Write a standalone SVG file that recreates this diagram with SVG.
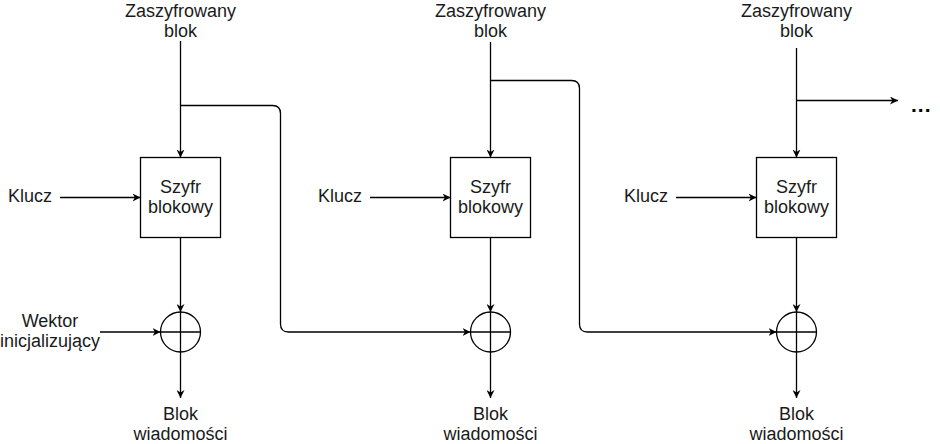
<svg xmlns="http://www.w3.org/2000/svg" width="940" height="444" viewBox="0 0 940 444">
<style>
text{font-family:"Liberation Sans",Arial,sans-serif;font-size:18px;fill:#1a1a1a;text-anchor:middle}
.ln{fill:none;stroke:#000;stroke-width:1.3}
.arr{marker-end:url(#ah)}
.box{fill:#fff;stroke:#000;stroke-width:1.3}
.dots{font-weight:bold;font-size:21px;text-anchor:start;letter-spacing:1px;fill:#000}
</style>
<defs>
<marker id="ah" viewBox="0 0 10 10" refX="10" refY="5" markerWidth="8" markerHeight="8" markerUnits="userSpaceOnUse" orient="auto">
<path d="M0,0 L10,5 L0,10 L3,5 Z" fill="#000"/>
</marker>
</defs>
<g id="connectors">
<path class="ln arr" d="M180.5,41 V157.5"/>
<path class="ln arr" d="M490.5,42 V157.5"/>
<path class="ln arr" d="M796.5,48 V157.5"/>
<path class="ln arr" d="M60,197.5 H140.5"/>
<path class="ln arr" d="M370,197.5 H450.5"/>
<path class="ln arr" d="M676,197.5 H756.5"/>
<path class="ln arr" d="M180.5,237.5 V312"/>
<path class="ln arr" d="M490.5,237.5 V312"/>
<path class="ln arr" d="M796.5,237.5 V312"/>
<path class="ln arr" d="M100,332 H160.5"/>
<path class="ln arr" d="M180.5,352 V398"/>
<path class="ln arr" d="M490.5,352 V398"/>
<path class="ln arr" d="M796.5,352 V398"/>
<path class="ln arr" d="M180.5,105.5 H272.5 Q280.5,105.5 280.5,113.5 V324 Q280.5,332 288.5,332 H470.5"/>
<path class="ln arr" d="M490.5,80.5 H571.5 Q579.5,80.5 579.5,88.5 V324 Q579.5,332 587.5,332 H776.5"/>
<path class="ln arr" d="M796.5,100.5 H898"/>
</g>
<g id="in1"><text x="180.5" y="17">Zaszyfrowany</text><text x="180.5" y="37">blok</text></g>
<g id="in2"><text x="490.5" y="17">Zaszyfrowany</text><text x="490.5" y="37">blok</text></g>
<g id="in3"><text x="796.5" y="17">Zaszyfrowany</text><text x="796.5" y="37">blok</text></g>
<g id="key1"><text x="30" y="202">Klucz</text></g>
<g id="key2"><text x="340" y="202">Klucz</text></g>
<g id="key3"><text x="646" y="202">Klucz</text></g>
<g id="cipher1"><rect class="box" x="140.5" y="157.5" width="80" height="80"/><text x="180.5" y="193">Szyfr</text><text x="180.5" y="213">blokowy</text></g>
<g id="cipher2"><rect class="box" x="450.5" y="157.5" width="80" height="80"/><text x="490.5" y="193">Szyfr</text><text x="490.5" y="213">blokowy</text></g>
<g id="cipher3"><rect class="box" x="756.5" y="157.5" width="80" height="80"/><text x="796.5" y="193">Szyfr</text><text x="796.5" y="213">blokowy</text></g>
<g id="iv"><text x="50" y="327">Wektor</text><text x="50" y="347">inicjalizujący</text></g>
<g id="xor1"><circle class="box" cx="180.5" cy="332" r="20"/><path class="ln" d="M160.5,332 H200.5 M180.5,312 V352"/></g>
<g id="xor2"><circle class="box" cx="490.5" cy="332" r="20"/><path class="ln" d="M470.5,332 H510.5 M490.5,312 V352"/></g>
<g id="xor3"><circle class="box" cx="796.5" cy="332" r="20"/><path class="ln" d="M776.5,332 H816.5 M796.5,312 V352"/></g>
<g id="out1"><text x="180.5" y="420">Blok</text><text x="180.5" y="440">wiadomości</text></g>
<g id="out2"><text x="490.5" y="420">Blok</text><text x="490.5" y="440">wiadomości</text></g>
<g id="out3"><text x="796.5" y="420">Blok</text><text x="796.5" y="440">wiadomości</text></g>
<g id="more"><text class="dots" x="911" y="112">...</text></g>
</svg>
